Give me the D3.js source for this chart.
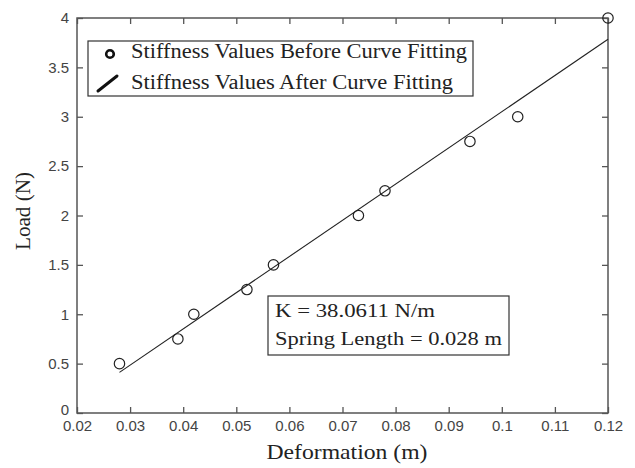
<!DOCTYPE html>
<html>
<head>
<meta charset="utf-8">
<script src="https://cdn.jsdelivr.net/npm/d3@7"></script>
<style>
  html, body { margin: 0; padding: 0; background: #fff; }
  svg { display: block; }
</style>
</head>
<body>
<svg id="chart" width="635" height="468"></svg>
<script>
// Measured deformation (m) and applied load (N)
const deformation = [0.028, 0.039, 0.042, 0.052, 0.057, 0.073, 0.078, 0.094, 0.103, 0.120];
const load        = [0.50,  0.75,  1.00,  1.25,  1.50,  2.00,  2.25,  2.75,  3.00,  4.00];

const xTicks = [0.02, 0.03, 0.04, 0.05, 0.06, 0.07, 0.08, 0.09, 0.1, 0.11, 0.12];
const yTicks = [0, 0.5, 1, 1.5, 2, 2.5, 3, 3.5, 4];

const legendLabels = ["Stiffness Values Before Curve Fitting", "Stiffness Values After Curve Fitting"];
const annotationLines = ["K = 38.0611 N/m", "Spring Length = 0.028 m"];

(function () {
  const svg = d3.select("#chart");
  const margin = { left: 77, top: 18, right: 27, bottom: 55 };
  const W = 635, H = 468;
  const x = d3.scaleLinear().domain([0.02, 0.12]).range([margin.left, W - margin.right]);
  const y = d3.scaleLinear().domain([0, 4]).range([H - margin.bottom, margin.top]);

  const serif = "'Liberation Serif', 'Times New Roman', serif";
  const sans = "'Liberation Sans', Arial, sans-serif";
  const axisColor = "#555";
  const ink = "#222";

  // Least-squares straight-line fit of load against deformation
  const mx = d3.mean(deformation), my = d3.mean(load);
  const sxy = d3.sum(deformation, (d, i) => (d - mx) * (load[i] - my));
  const sxx = d3.sum(deformation, d => (d - mx) ** 2);
  const slope = sxy / sxx, intercept = my - slope * mx;
  const fitX = [d3.min(deformation), d3.max(deformation)];

  // Axes with inward ticks on all four sides
  const tickLen = 6;
  const axBottom = svg.append("g").attr("transform", `translate(0,${y(0)})`)
    .call(d3.axisBottom(x).tickValues(xTicks).tickSize(-tickLen).tickPadding(7).tickFormat(d3.format("")));
  const axLeft = svg.append("g").attr("transform", `translate(${x(0.02)},0)`)
    .call(d3.axisLeft(y).tickValues(yTicks).tickSize(-tickLen).tickPadding(8).tickFormat(d3.format("")));
  const axTop = svg.append("g").attr("transform", `translate(0,${y(4)})`)
    .call(d3.axisTop(x).tickValues(xTicks).tickSize(-tickLen).tickFormat(""));
  const axRight = svg.append("g").attr("transform", `translate(${x(0.12)},0)`)
    .call(d3.axisRight(y).tickValues(yTicks).tickSize(-tickLen).tickFormat(""));

  [axBottom, axLeft, axTop, axRight].forEach(g => {
    g.select(".domain").remove();
    g.selectAll(".tick line").attr("stroke", axisColor).attr("stroke-width", 1.3);
    g.selectAll("text").attr("font-family", sans).attr("font-size", 15).attr("fill", "#444");
  });
  // The zero label sits just above the corner so it clears the first x label
  axLeft.selectAll(".tick").filter(d => d === 0).select("text").attr("dy", "0.1em");

  // Plot frame
  svg.append("rect")
    .attr("x", x(0.02)).attr("y", y(4))
    .attr("width", x(0.12) - x(0.02)).attr("height", y(0) - y(4))
    .attr("fill", "none").attr("stroke", axisColor).attr("stroke-width", 1.5);

  // Fitted line
  svg.append("line")
    .attr("x1", x(fitX[0])).attr("y1", y(slope * fitX[0] + intercept))
    .attr("x2", x(fitX[1])).attr("y2", y(slope * fitX[1] + intercept))
    .attr("stroke", ink).attr("stroke-width", 1.1);

  // Measured points
  svg.append("g").selectAll("circle")
    .data(deformation.map((d, i) => [d, load[i]]))
    .join("circle")
    .attr("cx", d => x(d[0])).attr("cy", d => y(d[1]))
    .attr("r", 5.2)
    .attr("fill", "none").attr("stroke", ink).attr("stroke-width", 1.2);

  // Axis titles
  svg.append("text")
    .attr("x", 347).attr("y", 459)
    .attr("text-anchor", "middle")
    .attr("font-family", serif).attr("font-size", 21).attr("fill", ink)
    .attr("textLength", 161).attr("lengthAdjust", "spacingAndGlyphs")
    .text("Deformation (m)");
  svg.append("text")
    .attr("transform", "translate(30,211) rotate(-90)")
    .attr("text-anchor", "middle")
    .attr("font-family", serif).attr("font-size", 20).attr("fill", ink)
    .attr("textLength", 78).attr("lengthAdjust", "spacingAndGlyphs")
    .text("Load (N)");

  // Legend
  const legend = svg.append("g");
  legend.append("rect")
    .attr("x", 88).attr("y", 41).attr("width", 385).attr("height", 55)
    .attr("fill", "#fff").attr("stroke", "#333").attr("stroke-width", 1.2);
  legend.append("circle")
    .attr("cx", 110).attr("cy", 54).attr("r", 3.8)
    .attr("fill", "none").attr("stroke", "#111").attr("stroke-width", 2.6);
  legend.append("line")
    .attr("x1", 98).attr("y1", 91).attr("x2", 117).attr("y2", 76)
    .attr("stroke", "#111").attr("stroke-width", 3).attr("stroke-linecap", "round");
  const legendWidths = [336, 322];
  legend.selectAll("text.leg")
    .data(legendLabels)
    .join("text")
    .attr("class", "leg")
    .attr("x", 131).attr("y", (d, i) => 58 + i * 31)
    .attr("font-family", serif).attr("font-size", 20).attr("fill", ink)
    .attr("textLength", (d, i) => legendWidths[i]).attr("lengthAdjust", "spacingAndGlyphs")
    .text(d => d);

  // Annotation box
  const note = svg.append("g");
  note.append("rect")
    .attr("x", 268).attr("y", 296).attr("width", 241).attr("height", 59)
    .attr("fill", "#fff").attr("stroke", "#333").attr("stroke-width", 1.2);
  const noteWidths = [160, 227];
  note.selectAll("text")
    .data(annotationLines)
    .join("text")
    .attr("x", 275).attr("y", (d, i) => 317 + i * 28)
    .attr("font-family", serif).attr("font-size", 19).attr("fill", ink)
    .attr("textLength", (d, i) => noteWidths[i]).attr("lengthAdjust", "spacingAndGlyphs")
    .text(d => d);
})();
</script>
</body>
</html>
